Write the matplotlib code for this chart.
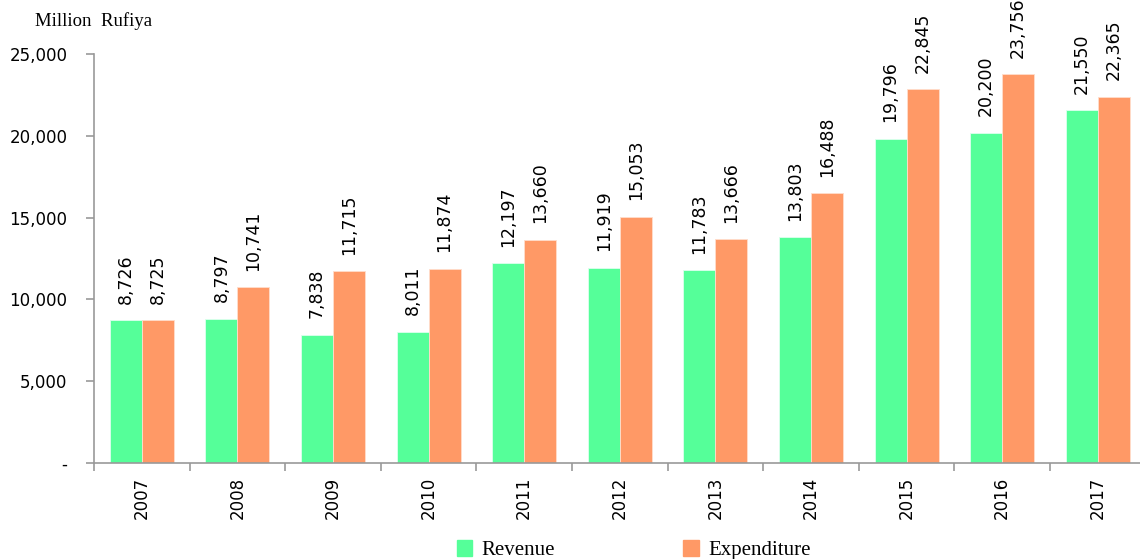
import numpy as np
import matplotlib.pyplot as plt
from matplotlib.patches import Patch

# government revenue vs expenditure, million rufiya
years = ['2007', '2008', '2009', '2010', '2011', '2012', '2013', '2014', '2015', '2016', '2017']
revenue = [8726, 8797, 7838, 8011, 12197, 11919, 11783, 13803, 19796, 20200, 21550]
expenditure = [8725, 10741, 11715, 11874, 13660, 15053, 13666, 16488, 22845, 23756, 22365]

green = '#55FF99'
orange = '#FF9966'
grey = '#999999'

fig = plt.figure(figsize=(11.4, 5.59), dpi=100)
ax = fig.add_axes([94 / 1140, 96 / 559, 11 * 95.6 / 1140, 409 / 559])

ind = np.arange(len(years))
width = 0.335
ax.bar(ind - width / 2, revenue, width, color=green, edgecolor='#ddffee', linewidth=0.6)
ax.bar(ind + width / 2, expenditure, width, color=orange, edgecolor='#ffddcc', linewidth=0.6)

for i in ind:
    ax.annotate(f'{revenue[i]:,}', (i - width / 2, revenue[i]), xytext=(0, 12),
                textcoords='offset points', rotation=90, ha='center', va='bottom',
                fontsize=12.5, annotation_clip=False)
    ax.annotate(f'{expenditure[i]:,}', (i + width / 2, expenditure[i]), xytext=(0, 12),
                textcoords='offset points', rotation=90, ha='center', va='bottom',
                fontsize=12.5, annotation_clip=False)

ax.set_xlim(-0.5, len(years) - 0.5)
ax.set_ylim(0, 25000)
ax.set_yticks(range(0, 25001, 5000))
ax.set_yticklabels(['-'] + [f'{v:,}' for v in range(5000, 25001, 5000)], fontsize=12)
ax.set_xticks(ind)
ax.set_xticklabels(years, rotation=90, fontsize=12)
ax.set_xticks(np.arange(-0.5, len(years), 1), minor=True)
ax.tick_params(axis='x', which='major', length=0, pad=10)
ax.tick_params(axis='x', which='minor', length=6, color=grey, width=1.2)
ax.tick_params(axis='y', length=6, color=grey, width=1.2, pad=13)

for s in ['top', 'right']:
    ax.spines[s].set_visible(False)
for s in ['left', 'bottom']:
    ax.spines[s].set_color(grey)
    ax.spines[s].set_linewidth(1.2)

fig.text(35 / 1140, 1 - 21 / 559, 'Million  Rufiya', family='Liberation Serif',
         fontsize=13.5, va='center')

handles = [Patch(color=green, label='Revenue'), Patch(color=orange, label='Expenditure')]
fig.legend(handles=handles, loc='lower center', bbox_to_anchor=(0.556, -0.036), ncol=2,
           frameon=False, prop={'family': 'Liberation Serif', 'size': 15},
           handlelength=0.75, handleheight=0.75, columnspacing=6.15, handletextpad=0.45)

fig.savefig('out.png', dpi=100)
